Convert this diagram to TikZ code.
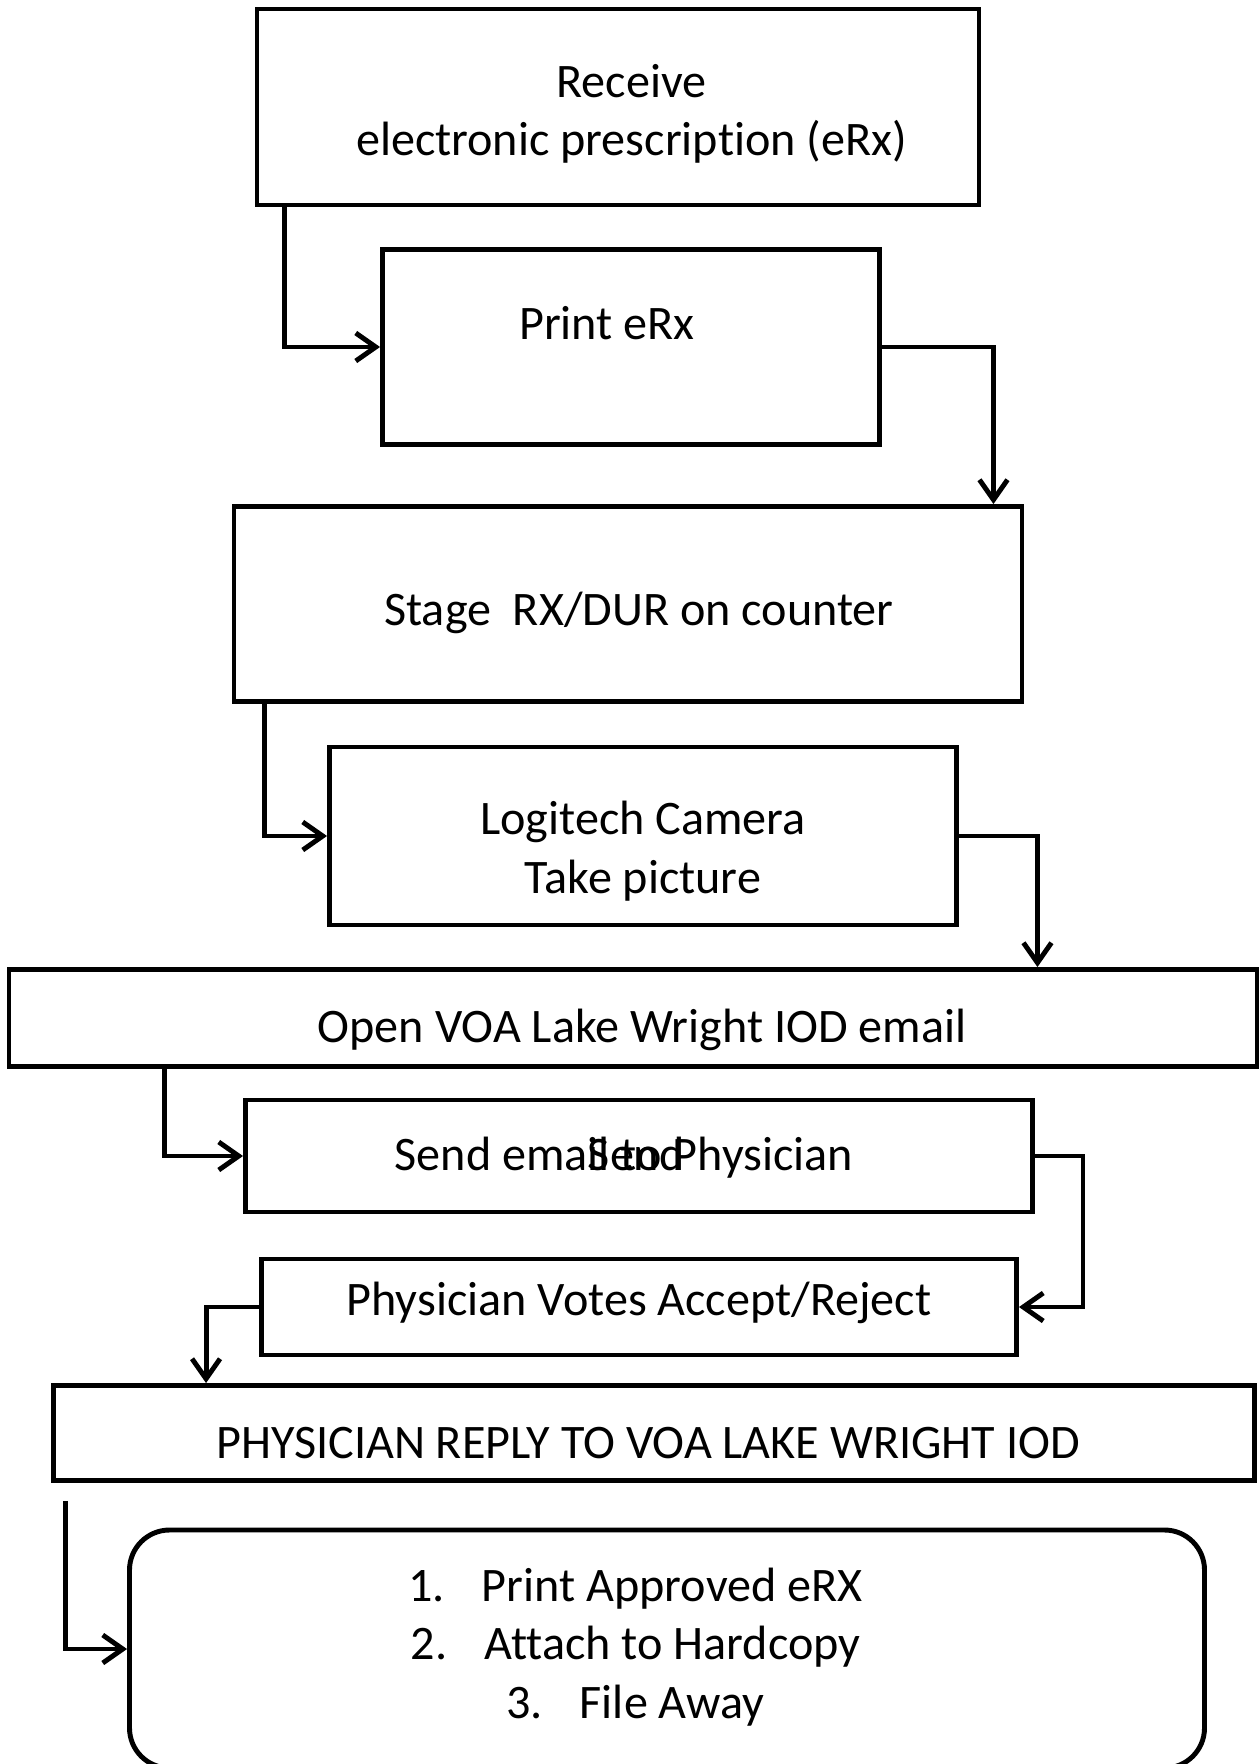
\documentclass[tikz,border=0pt]{standalone}
\usepackage{fontspec}
\setmainfont{Carlito}[Ligatures=NoCommon]
\usetikzlibrary{arrows.meta}

\begin{document}
\begin{tikzpicture}[font=\fontsize{13.7}{16.6}\selectfont, every label/.style={align=center}]
\tikzstyle{stepbox} = [rectangle, draw=black, line width=1.4pt, inner sep=0pt]
\tikzstyle{endbox} = [stepbox, rounded corners=0.4cm]
\tikzstyle{arrow} = [line width=1.4pt,->,>={Straight Barb[length=2mm,width=2.8mm]}]
\useasboundingbox (0,0) rectangle (12.59,-17.64);
\node (receive) [stepbox, minimum width=7.22cm, minimum height=1.96cm, label={[xshift=0.135cm, yshift=-0.07cm]center:Receive\\electronic prescription (eRx)}] at (6.18,-1.07) {};
\node (print) [stepbox, minimum width=4.97cm, minimum height=1.95cm, label={[xshift=-0.24cm, yshift=0.24cm]center:Print eRx}] at (6.31,-3.47) {};
\node (stage) [stepbox, minimum width=7.88cm, minimum height=1.95cm, label={[xshift=0.11cm, yshift=-0.09cm]center:Stage\ \ RX/DUR on counter}] at (6.28,-6.04) {};
\node (camera) [stepbox, minimum width=6.27cm, minimum height=1.78cm, label={[yshift=-0.15cm]center:Logitech Camera\\Take picture}] at (6.43,-8.36) {};
\node (openmail) [stepbox, minimum width=12.48cm, minimum height=0.97cm, label={[xshift=0.09cm, yshift=-0.12cm]center:Open VOA Lake Wright IOD email}] at (6.33,-10.18) {};
\node (sendmail) [stepbox, minimum width=7.87cm, minimum height=1.12cm, label={[xshift=-0.15cm, yshift=-0.02cm]center:Send ema\rlap{Send}il to Physician}] at (6.39,-11.56) {};
\node (votes) [stepbox, minimum width=7.55cm, minimum height=0.96cm, label={[yshift=0.045cm]center:Physician Votes Accept/Reject}] at (6.39,-13.07) {};
\node (reply) [stepbox, minimum width=12.01cm, minimum height=0.95cm, label={[xshift=-0.06cm, yshift=-0.1cm]center:PHYSICIAN REPLY TO VOA LAKE WRIGHT IOD}] at (6.54,-14.33) {};
\node (fileaway) [endbox, minimum width=10.75cm, minimum height=2.38cm, label={[xshift=-0.315cm, yshift=0.02cm]center:1.\hspace{0.37cm}Print Approved eRX\\2.\hspace{0.37cm}Attach to Hardcopy\\3.\hspace{0.37cm}File Away}] at (6.67,-16.49) {};
\draw [arrow] ([xshift=0.3cm]receive.south west) |- (print.west);
\draw [arrow] (print.east) -| ([xshift=-0.31cm]stage.north east);
\draw [arrow] ([xshift=0.33cm]stage.south west) |- (camera.west);
\draw [arrow] (camera.east) -| ([xshift=-2.22cm]openmail.north east);
\draw [arrow] ([xshift=1.58cm]openmail.south west) |- (sendmail.west);
\draw [arrow] (sendmail.east) -- ++(0.48,0) |- (votes.east);
\draw [arrow] (votes.west) -| ([xshift=1.55cm]reply.north west);
\draw [arrow] ([xshift=0.145cm, yshift=-0.18cm]reply.south west) |- (fileaway.west);
\end{tikzpicture}
\end{document}
